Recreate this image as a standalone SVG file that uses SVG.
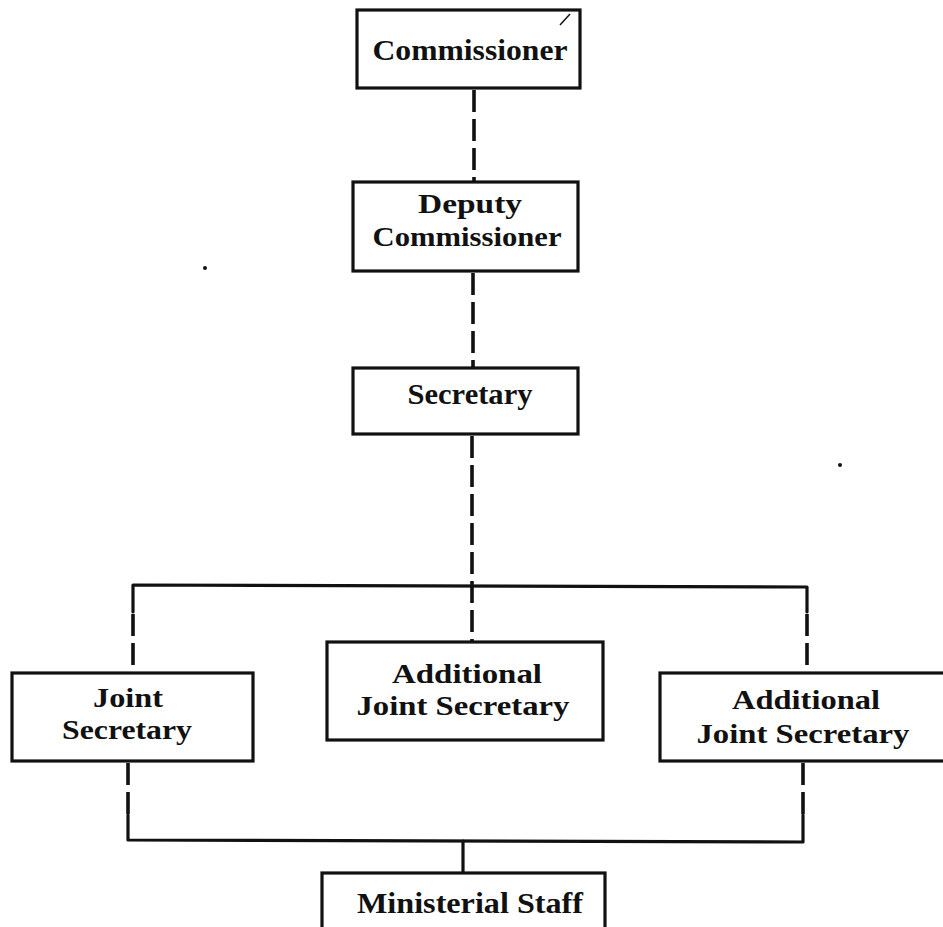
<svg xmlns="http://www.w3.org/2000/svg" width="943" height="927" viewBox="0 0 943 927">
  <style>
    .box { fill: #ffffff; stroke: #111111; stroke-width: 3.2; }
    .lbl { font-family: "Liberation Serif", "Times New Roman", serif; font-weight: bold; font-size: 28px; fill: #111111; text-anchor: middle; }
    .big { font-size: 30px; }
    .solid { fill: none; stroke: #111111; stroke-width: 3.2; stroke-linecap: round; stroke-linejoin: round; }
    .dash { fill: none; stroke: #111111; stroke-width: 3.6; stroke-dasharray: 22 7; stroke-linecap: butt; }
    .speck { fill: #111111; }
  </style>

  <!-- connectors -->
  <g id="connectors">
    <line class="dash" x1="474" y1="90" x2="474" y2="182"/>
    <line class="dash" x1="473" y1="273" x2="473" y2="368"/>
    <line class="dash" x1="472" y1="436" x2="472" y2="642"/>
    <!-- upper distribution bar -->
    <polyline class="solid" points="133,612 133,585 807,587 807,612"/>
    <line class="dash" x1="133" y1="614" x2="133" y2="673"/>
    <line class="dash" x1="807" y1="614" x2="807" y2="673"/>
    <!-- lower collecting bar -->
    <line class="dash" x1="128" y1="763" x2="128" y2="815"/>
    <line class="dash" x1="803" y1="763" x2="803" y2="815"/>
    <polyline class="solid" points="128,815 128,840 803,842 803,815"/>
    <line class="solid" x1="463" y1="841" x2="463" y2="873"/>
  </g>

  <g id="commissioner">
    <rect class="box" x="357" y="10" width="223" height="78"/>
    <text class="lbl big" x="470" y="60" textLength="195" lengthAdjust="spacingAndGlyphs">Commissioner</text>
  </g>

  <g id="deputy-commissioner">
    <rect class="box" x="353" y="182" width="225" height="89"/>
    <text class="lbl" x="470" y="213" textLength="104" lengthAdjust="spacingAndGlyphs">Deputy</text>
    <text class="lbl" x="467" y="246" textLength="189" lengthAdjust="spacingAndGlyphs">Commissioner</text>
  </g>

  <g id="secretary">
    <rect class="box" x="353" y="368" width="225" height="66"/>
    <text class="lbl big" x="470" y="404" textLength="125" lengthAdjust="spacingAndGlyphs">Secretary</text>
  </g>

  <g id="joint-secretary">
    <rect class="box" x="12" y="673" width="241" height="88"/>
    <text class="lbl" x="128" y="707" textLength="70" lengthAdjust="spacingAndGlyphs">Joint</text>
    <text class="lbl" x="127" y="739" textLength="130" lengthAdjust="spacingAndGlyphs">Secretary</text>
  </g>

  <g id="additional-joint-secretary-1">
    <rect class="box" x="327" y="642" width="276" height="98"/>
    <text class="lbl" x="467" y="683" textLength="150" lengthAdjust="spacingAndGlyphs">Additional</text>
    <text class="lbl" x="463" y="715" textLength="213" lengthAdjust="spacingAndGlyphs">Joint Secretary</text>
  </g>

  <g id="additional-joint-secretary-2">
    <rect class="box" x="660" y="673" width="292" height="88"/>
    <text class="lbl" x="806" y="709" textLength="148" lengthAdjust="spacingAndGlyphs">Additional</text>
    <text class="lbl" x="803" y="743" textLength="213" lengthAdjust="spacingAndGlyphs">Joint Secretary</text>
  </g>

  <g id="ministerial-staff">
    <rect class="box" x="322" y="873" width="283" height="70"/>
    <text class="lbl big" x="470" y="913" textLength="226" lengthAdjust="spacingAndGlyphs">Ministerial Staff</text>
  </g>

  <!-- stray print marks -->
  <g id="specks">
    <circle class="speck" cx="205" cy="268" r="2"/>
    <circle class="speck" cx="840" cy="465" r="2"/>
    <line x1="570" y1="14" x2="560" y2="25" stroke="#111111" stroke-width="1.5"/>
  </g>
</svg>
